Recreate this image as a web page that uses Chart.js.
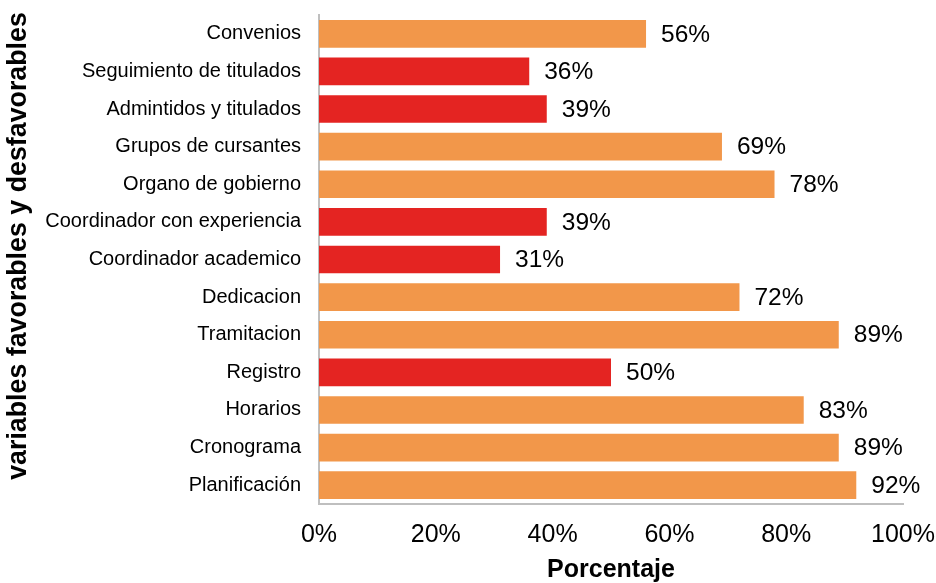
<!DOCTYPE html>
<html>
<head>
<meta charset="utf-8">
<script src="https://cdn.jsdelivr.net/npm/chart.js@4.4.1/dist/chart.umd.min.js"></script>
<style>
  html, body { margin: 0; padding: 0; background: #ffffff; }
  #wrap { width: 936px; height: 583px; }
</style>
</head>
<body>
<div id="wrap"><canvas id="c" width="936" height="583"></canvas></div>
<script>
const categories = [
  "Convenios",
  "Seguimiento de titulados",
  "Admintidos y titulados",
  "Grupos de cursantes",
  "Organo de gobierno",
  "Coordinador con experiencia",
  "Coordinador academico",
  "Dedicacion",
  "Tramitacion",
  "Registro",
  "Horarios",
  "Cronograma",
  "Planificación"
];
const values = [56, 36, 39, 69, 78, 39, 31, 72, 89, 50, 83, 89, 92];
const favorable = [true, false, false, true, true, false, false, true, true, false, true, true, true];
const xTicks = [0, 20, 40, 60, 80, 100];
const yTitle = "variables favorables y desfavorables";
const xTitle = "Porcentaje";

const ORANGE = "#F2974A";
const RED = "#E42422";
const FONT = "'Liberation Sans', Arial, sans-serif";

const valueLabels = {
  id: "valueLabels",
  afterDatasetsDraw(chart) {
    const ctx = chart.ctx;
    const meta = chart.getDatasetMeta(0);
    ctx.save();
    ctx.font = "24.5px " + FONT;
    ctx.fillStyle = "#000000";
    ctx.textAlign = "left";
    ctx.textBaseline = "middle";
    meta.data.forEach((el, i) => {
      ctx.fillText(values[i] + "%", el.x + 15, el.y + 1);
    });
    ctx.restore();
  }
};

const yTitlePlugin = {
  id: "yTitlePlugin",
  afterDraw(chart) {
    const ctx = chart.ctx;
    ctx.save();
    ctx.translate(19, 246);
    ctx.rotate(-Math.PI / 2);
    ctx.font = "bold 26.8px " + FONT;
    ctx.fillStyle = "#000000";
    ctx.textAlign = "center";
    ctx.textBaseline = "middle";
    ctx.fillText(yTitle, 0, 0);
    ctx.restore();
  }
};

function zeroPad(scale) {
  scale.paddingTop = 0; scale.paddingBottom = 0;
  scale.paddingLeft = 0; scale.paddingRight = 0;
}

new Chart(document.getElementById("c"), {
  type: "bar",
  data: {
    labels: categories,
    datasets: [{
      data: values,
      backgroundColor: favorable.map(f => f ? ORANGE : RED),
      borderWidth: 0,
      categoryPercentage: 0.735,
      barPercentage: 1.0
    }]
  },
  options: {
    indexAxis: "y",
    responsive: false,
    animation: false,
    devicePixelRatio: 1,
    layout: { padding: { top: 15, right: 33, left: 0, bottom: 0 } },
    plugins: { legend: { display: false }, tooltip: { enabled: false } },
    scales: {
      x: {
        min: 0, max: 100,
        afterBuildTicks(scale) { scale.ticks = xTicks.map(v => ({ value: v })); },
        grid: { display: false, drawTicks: false },
        border: { display: true, color: "#BFBFBF", width: 2 },
        ticks: {
          padding: 16,
          color: "#000000",
          font: { family: FONT, size: 25 },
          callback: v => v + "%",
          maxRotation: 0,
          autoSkip: false
        },
        title: {
          display: true,
          text: xTitle,
          color: "#000000",
          font: { family: FONT, size: 25, weight: "bold" },
          padding: { top: 8, bottom: -2 }
        },
        afterFit(scale) { scale.height = 79; zeroPad(scale); }
      },
      y: {
        grid: { display: false, drawTicks: false },
        border: { display: true, color: "#BFBFBF", width: 2 },
        ticks: {
          padding: 18,
          color: "#000000",
          font: { family: FONT, size: 20 },
          autoSkip: false
        },
        afterFit(scale) { scale.width = 319; zeroPad(scale); }
      }
    }
  },
  plugins: [valueLabels, yTitlePlugin]
});
</script>
</body>
</html>
